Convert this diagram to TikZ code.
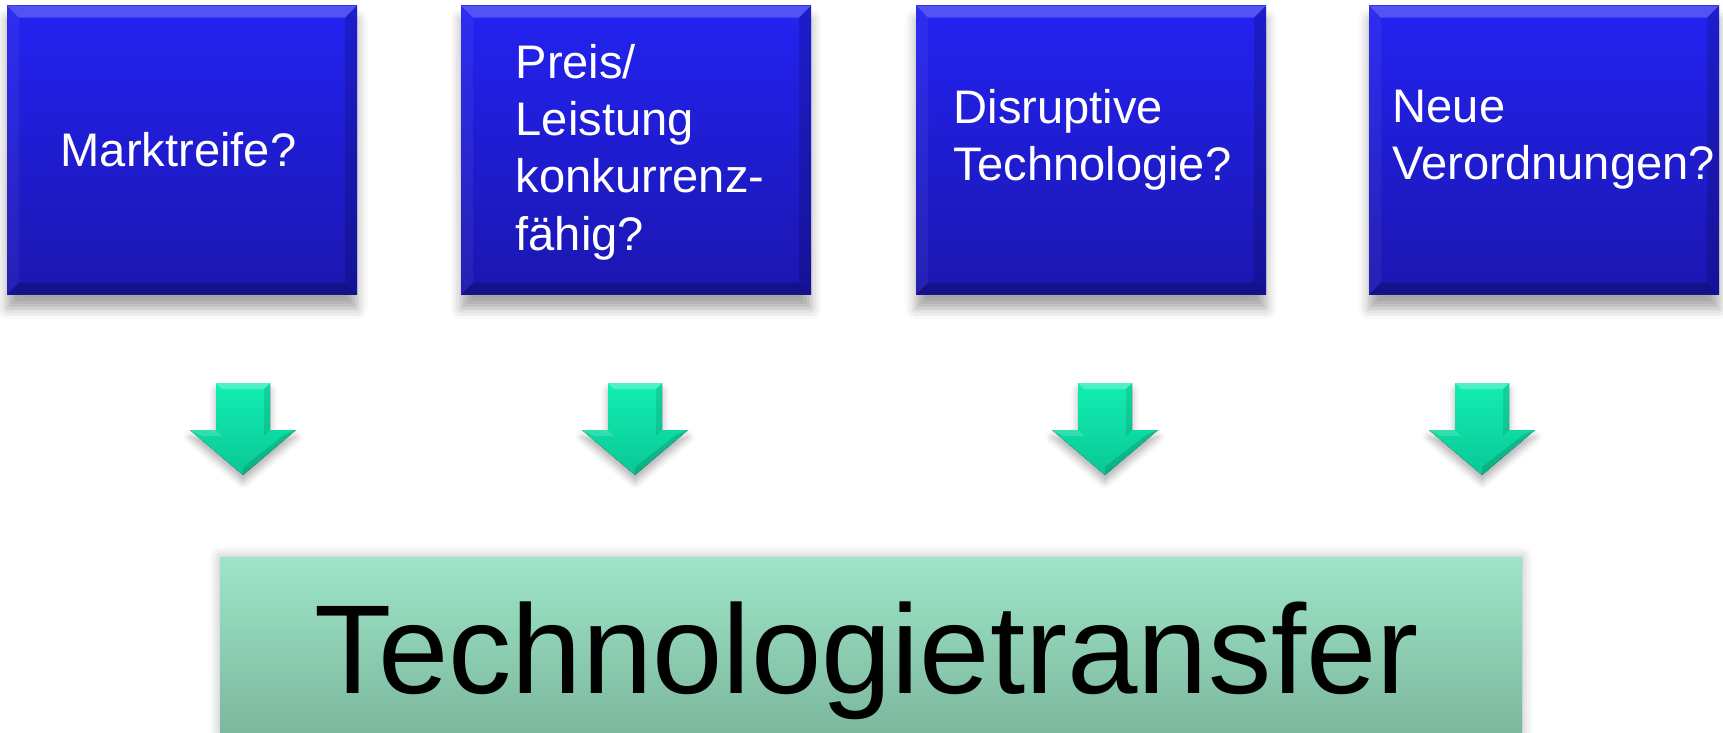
\documentclass[tikz,border=0pt]{standalone}
\usepackage{fontspec}
\setmainfont{Liberation Sans}
\usetikzlibrary{positioning,calc,shadows.blur}

\definecolor{boxtop}{RGB}{35,35,242}
\definecolor{boxbot}{RGB}{27,22,175}
\definecolor{arrtop}{RGB}{18,238,178}
\definecolor{arrbot}{RGB}{10,200,150}
\definecolor{basetop}{RGB}{158,229,200}
\definecolor{basebot}{RGB}{124,184,158}

\tikzset{
  bevel/.style={path picture={
      \coordinate (nw) at (path picture bounding box.north west);
      \coordinate (ne) at (path picture bounding box.north east);
      \coordinate (sw) at (path picture bounding box.south west);
      \coordinate (se) at (path picture bounding box.south east);
      \fill[white,opacity=.22] (nw) -- (ne) -- ($(ne)+(-12,12)$) -- ($(nw)+(12,12)$) -- cycle;
      \fill[white,opacity=.05] (nw) -- ($(nw)+(12,12)$) -- ($(sw)+(12,-12)$) -- (sw) -- cycle;
      \fill[black,opacity=.15] (ne) -- ($(ne)+(-12,12)$) -- ($(se)+(-12,-12)$) -- (se) -- cycle;
      \fill[black,opacity=.22] (sw) -- ($(sw)+(12,-12)$) -- ($(se)+(-12,-12)$) -- (se) -- cycle;
  }},
  frage/.style={minimum width=35mm, minimum height=28.9mm, inner sep=0pt,
    top color=boxtop, bottom color=boxbot, bevel,
    blur shadow={shadow xshift=0pt, shadow yshift=-4pt, shadow blur radius=3pt, shadow opacity=35}},
  fragetext/.style={anchor=west, align=left, text=white, inner sep=0pt,
    font=\fontsize{13.4}{16.3}\selectfont},
  pfeil/.style={top color=arrtop, bottom color=arrbot,
    blur shadow={shadow xshift=0pt, shadow yshift=-2pt, shadow blur radius=2pt, shadow opacity=30}},
  ziel/.style={minimum width=130.2mm, minimum height=17.5mm, inner sep=0pt,
    top color=basetop, bottom color=basebot,
    blur shadow={shadow xshift=0pt, shadow yshift=0pt, shadow blur radius=3pt, shadow opacity=30}},
}

\begin{document}
\begin{tikzpicture}[x=0.1mm,y=-0.1mm]
  \useasboundingbox (0,0) rectangle (1723,732);

  % vier Fragen
  \node[frage] (m1) at (182,150) {};
  \node[frage] (m2) at (636,150) {};
  \node[frage] (m3) at (1091,150) {};
  \node[frage] (m4) at (1544,150) {};

  \node[fragetext] (q1) at (60,150) {Marktreife?};
  \node[fragetext] (q2) at (515,152) {Preis/\\Leistung\\konkurrenz-\\fähig?};
  \node[fragetext] (q3) at (953,140) {Disruptive\\Technologie?};
  \node[fragetext] (q4) at (1392,140) {Neue\\Verordnungen?};

  % Pfeile nach unten
  \foreach \x in {243,635,1105,1482} {
    \fill[pfeil] (\x-27,383) -- (\x+27,383) -- (\x+27,430) -- (\x+53,430)
      -- (\x,475) -- (\x-53,430) -- (\x-27,430) -- cycle;
    \fill[white,opacity=.25] (\x-27,383) -- (\x+27,383) -- (\x+21,389) -- (\x-21,389) -- cycle;
    \fill[black,opacity=.10] (\x+27,383) -- (\x+27,430) -- (\x+21,436) -- (\x+21,389) -- cycle;
    \fill[white,opacity=.15] (\x-53,430) -- (\x-27,430) -- (\x-21,436) -- (\x-41,436) -- cycle;
    \fill[black,opacity=.12] (\x+53,430) -- (\x,475) -- (\x,467) -- (\x+41,435) -- cycle;
  }

  % Ergebnis
  \node[ziel] (tt) at (871,644.5) {};
  \node[anchor=base, inner sep=0pt, font=\fontsize{36}{40}\selectfont] (ttext) at (867,693) {Technologietransfer};
\end{tikzpicture}
\end{document}
